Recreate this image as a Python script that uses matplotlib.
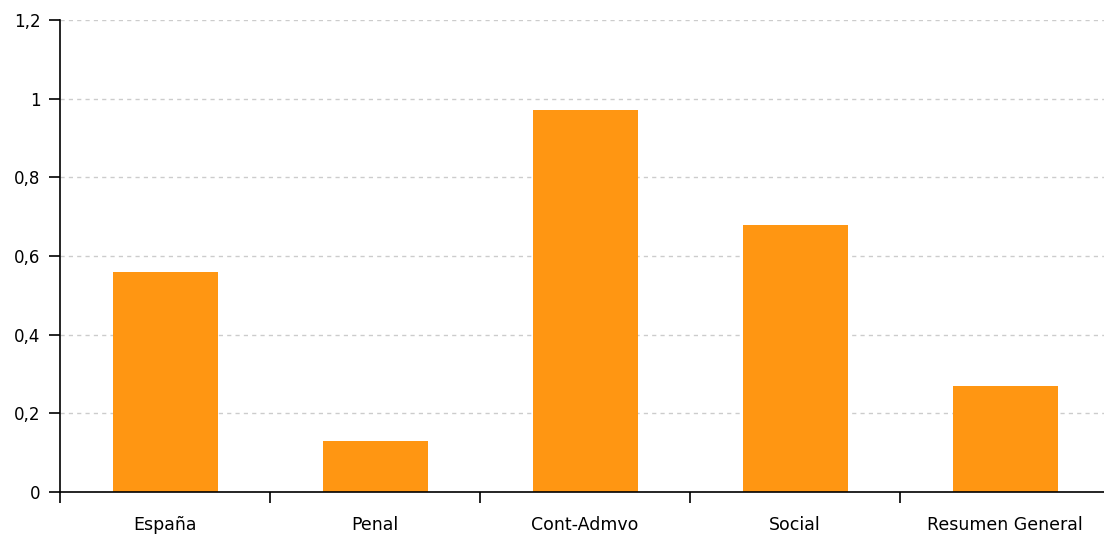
import matplotlib.pyplot as plt
import numpy as np

categories = ["España", "Penal", "Cont-Admvo", "Social", "Resumen General"]
values = [0.56, 0.13, 0.97, 0.68, 0.27]
y_ticks = [0, 0.2, 0.4, 0.6, 0.8, 1.0, 1.2]
y_labels = ["0", "0,2", "0,4", "0,6", "0,8", "1", "1,2"]

BAR_COLOR = "#FF9612"

fig = plt.figure(figsize=(11.04, 5.37), dpi=100)
ax = fig.add_axes([60 / 1104, 45 / 537, 1044 / 1104, 472 / 537])

x = np.arange(len(categories))
ax.bar(x, values, width=0.5, color=BAR_COLOR, zorder=3)

ax.set_ylim(0, 1.2)
ax.set_xlim(-0.5, (1104 - 165) / 210)

ax.set_yticks(y_ticks)
ax.set_yticklabels(y_labels, fontsize=12)
ax.tick_params(axis="y", length=8, width=1.2, pad=6, color="black")

ax.set_xticks(x)
ax.set_xticklabels(categories, fontsize=12.5)
ax.set_xticks(np.arange(len(categories)) - 0.5, minor=True)
ax.tick_params(axis="x", which="major", length=0, pad=17)
ax.tick_params(axis="x", which="minor", length=8, width=1.2, direction="out")

ax.yaxis.grid(True, linestyle=(0, (3, 3)), color="#cccccc", linewidth=1, zorder=0)
ax.set_axisbelow(True)

for side in ["top", "right"]:
    ax.spines[side].set_visible(False)
for side in ["left", "bottom"]:
    ax.spines[side].set_linewidth(1.2)
    ax.spines[side].set_zorder(4)

fig.savefig("out.png", dpi=100)
